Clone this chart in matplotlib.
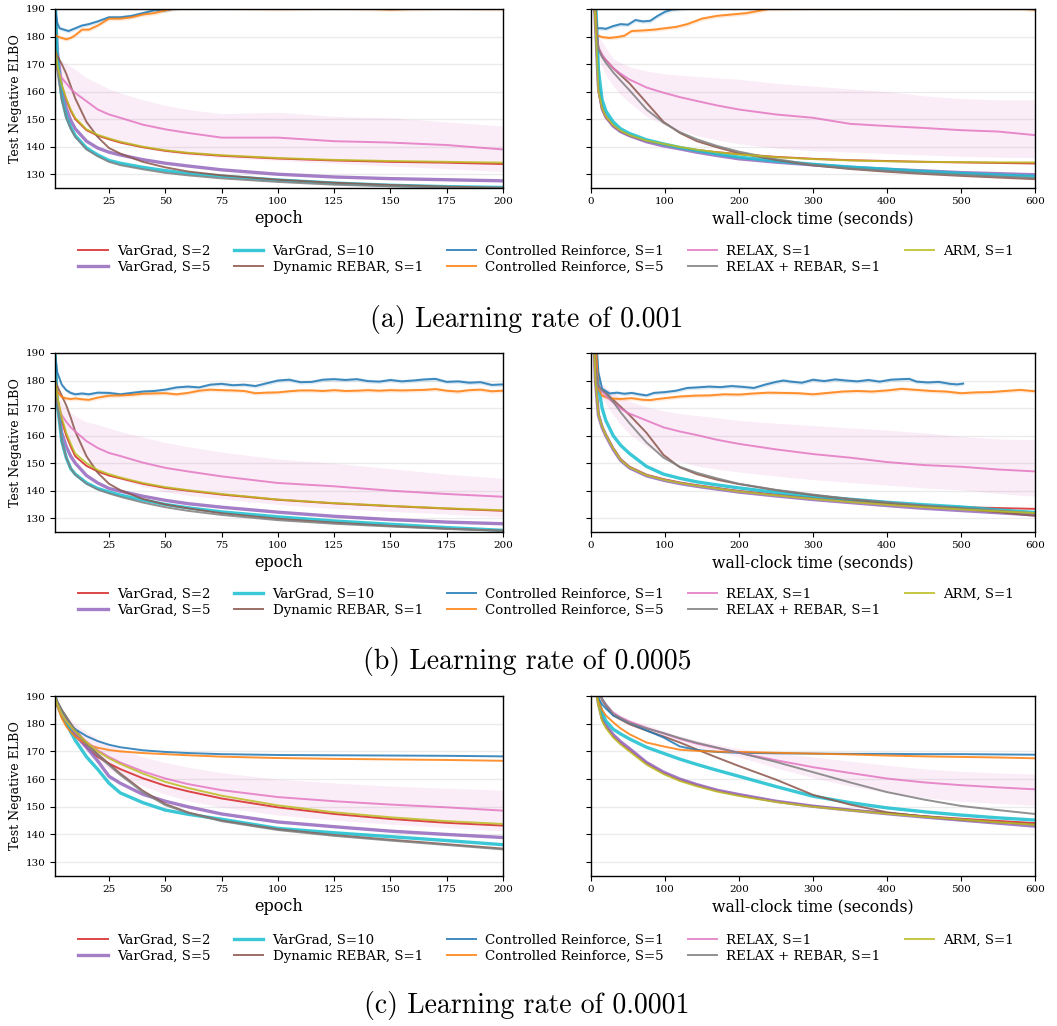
import matplotlib
matplotlib.use("Agg")
import matplotlib.pyplot as plt

# ---- x grids -------------------------------------------------------------
EPOCH = [1, 2, 4, 6, 8, 10, 15, 20, 25, 30, 40, 50, 60, 75, 100, 125, 150, 175, 200]
WALL = [3, 6, 10, 15, 20, 30, 40, 52, 75, 98, 120, 143, 170, 200, 250, 300, 350, 400, 450, 500, 550, 600]

# ---- (a) learning rate 0.001, per epoch --------------------------------------
a_ep_vg2 = [176, 170, 162, 157, 153, 150, 146, 144, 142.7, 141.5, 139.8, 138.5, 137.6, 136.7, 135.7, 135.0, 134.5, 134.2, 133.7]
a_ep_vg5 = [192, 175, 161, 154, 149.5, 146.5, 142, 139.5, 138, 137, 135.3, 134, 133, 131.6, 130, 129, 128.4, 128, 127.6]
a_ep_vg10 = [195, 172, 158, 151, 147, 144, 139.5, 137, 135, 134, 132.5, 131.3, 130.3, 129.3, 127.9, 126.8, 126, 125.5, 125.2]
a_ep_dyn = [175, 173, 170, 166.5, 162, 157.5, 149, 143.5, 139.5, 137.5, 134.5, 132.5, 131, 129.6, 128, 126.9, 126.1, 125.5, 125.1]
a_ep_relax = [172, 168, 165, 163, 161, 159.5, 156.5, 153.5, 151.7, 150.5, 148, 146.3, 145, 143.3, 143.3, 142, 141.5, 140.6, 139]
a_ep_relax_hi = [175, 173, 171, 170, 169, 168, 165, 163, 161, 159.5, 157, 155, 153.5, 152, 152.5, 151, 150.5, 149, 147.5]
a_ep_relax_lo = [169, 163, 159, 156, 153.5, 151.5, 147.5, 145, 143, 141.5, 139.5, 138, 137, 136, 135, 134, 133, 132, 131]
a_ep_rr = [175, 168, 157, 150.5, 146.5, 143.5, 139, 136.5, 134.5, 133.3, 131.8, 130.5, 129.6, 128.5, 127.2, 126.2, 125.6, 125.2, 124.9]
a_ep_arm = [176, 170, 162.5, 157.5, 153.5, 150.5, 146.3, 144.3, 143, 141.8, 140, 138.7, 137.8, 136.9, 135.9, 135.2, 134.8, 134.5, 134.2]
a_ep_cr1_x = [1, 2, 3, 5, 7, 10, 13, 16, 20, 25, 30, 35, 40, 45, 50, 55, 60, 100, 150, 200]
a_ep_cr1 = [190, 185, 183, 182.5, 182, 183, 184, 184.5, 185.5, 187, 187, 187.5, 188.5, 189.5, 189.5, 190.3, 191, 193, 194, 195]
a_ep_cr5_x = [1, 2, 4, 6, 8, 10, 13, 16, 20, 25, 30, 35, 40, 45, 50, 55, 75, 100, 125, 150, 175, 200]
a_ep_cr5 = [181, 180, 179.5, 179, 179.5, 180.5, 182.5, 182.5, 184, 186.5, 186.5, 187, 188, 188.5, 189.5, 190.3, 190.5, 190, 190.4, 189.8, 190.3, 190.0]

# ---- (a) learning rate 0.001, wall-clock -------------------------------------
a_wc_vg2 = [200, 185, 160, 153.5, 150.5, 147.5, 145.5, 144, 142, 140.8, 139.7, 138.8, 138, 137.3, 136.3, 135.6, 135.1, 134.8, 134.5, 134.3, 134.1, 133.9]
a_wc_vg5 = [200, 185, 162, 154, 151, 147.5, 145.5, 144, 141.8, 140.3, 139.2, 138, 136.8, 135.6, 134.4, 133.4, 132.5, 131.8, 131.2, 130.6, 130.2, 129.8]
a_wc_vg10 = [200, 195, 168, 157, 153, 149, 146.5, 144.8, 142.5, 141, 139.7, 138.6, 137.4, 136.2, 134.8, 133.6, 132.6, 131.8, 131, 130.3, 129.7, 129.2]
a_wc_dyn = [200, 185, 176, 173, 171.5, 168.5, 166, 163, 156, 149, 145, 142, 139.8, 137.6, 135.2, 133.2, 131.9, 130.9, 130.1, 129.4, 128.8, 128.2]
a_wc_relax = [200, 185, 176, 173.5, 171.5, 168.6, 166.5, 164.4, 161.5, 159.6, 158, 156.6, 155, 153.5, 151.7, 150.5, 148.3, 147.5, 146.8, 146, 145.5, 144.2]
a_wc_relax_hi = [200, 190, 180, 178, 176, 172, 170.5, 169, 167.5, 166.5, 166, 165.5, 165, 164.5, 163, 162, 161, 160, 158.5, 157.5, 157, 157]
a_wc_relax_lo = [200, 180, 172, 169, 166, 162, 159, 156, 151, 148, 146, 144, 142.5, 141, 139.5, 138.5, 138, 137.5, 137, 136.5, 136.2, 136]
a_wc_rr = [200, 185, 175.5, 172.5, 170.5, 167, 164, 160.5, 153.5, 148.7, 145.3, 142.7, 140.3, 138.2, 135.5, 133.4, 132.1, 131.2, 130.4, 129.8, 129.2, 128.6]
a_wc_arm = [200, 185, 160.5, 154, 151, 147.8, 145.8, 144.2, 142.2, 141, 139.9, 138.9, 138, 137.2, 136.2, 135.5, 135.0, 134.7, 134.5, 134.4, 134.3, 134.3]
a_wc_cr1_x = [5, 8, 15, 20, 30, 40, 50, 60, 70, 80, 90, 100, 110, 120, 130, 140, 200, 300, 400, 500]
a_wc_cr1 = [195, 183, 183, 182.8, 183.8, 184.5, 184.3, 186, 185.5, 185.7, 187.5, 189, 189.8, 190, 190.5, 191, 193, 194, 195, 195]
a_wc_cr5_x = [5, 8, 15, 25, 35, 45, 55, 70, 85, 100, 115, 130, 150, 170, 190, 210, 240, 300, 400, 500, 580, 600]
a_wc_cr5 = [195, 180.5, 179.8, 179.5, 179.8, 180.3, 182, 182.2, 182.5, 183, 183.5, 184.5, 186.5, 187.5, 188, 188.5, 190, 190.3, 190.4, 190.3, 190.2, 189.7]

# ---- (b) learning rate 0.0005, per epoch -------------------------------------
b_ep_vg2 = [180, 174, 165.5, 160, 156, 152.5, 149, 147, 145.5, 144.5, 142.5, 141, 140, 138.6, 136.7, 135.4, 134.4, 133.5, 132.7]
b_ep_vg5 = [185, 172, 161, 156, 152.5, 150, 145.5, 142.8, 140.8, 139.8, 138, 136.5, 135.3, 134, 132.2, 130.7, 129.5, 128.6, 128]
b_ep_vg10 = [190, 172, 158, 152, 148, 146, 142.8, 140.8, 139.5, 138.4, 136.6, 135, 133.8, 132.3, 130.5, 129, 127.8, 126.6, 125.6]
b_ep_dyn = [180, 178, 174.5, 171, 166.5, 161.5, 152.5, 146.5, 142.5, 140.2, 137, 135, 133.6, 131.8, 129.8, 128.4, 127.2, 126.2, 125.5]
b_ep_relax = [178, 172, 167.5, 165, 163, 161.5, 158, 155.5, 153.7, 152.6, 150.2, 148.3, 147, 145.2, 142.8, 141.6, 140, 138.8, 137.8]
b_ep_relax_hi = [180, 176, 172, 170, 168.5, 167, 165, 164, 162.7, 161.5, 159.5, 157.5, 156, 154, 151.5, 150, 148, 146, 144.5]
b_ep_relax_lo = [176, 168, 163, 160, 157.5, 155.5, 151.5, 148, 145.5, 144, 141.5, 139.5, 138.3, 137, 135, 133.5, 132.5, 131.5, 130.5]
b_ep_rr = [183, 172, 158, 152, 148, 145.8, 142.5, 140.4, 139, 137.8, 135.7, 134, 132.7, 131.2, 129.3, 128, 127, 126.1, 125.4]
b_ep_arm = [180, 174.5, 166.5, 161, 157, 153.5, 150, 147.5, 146, 144.8, 142.8, 141.3, 140.2, 138.8, 136.8, 135.5, 134.5, 133.6, 132.9]
b_ep_cr_x = [1, 2, 4, 6, 8, 10, 13, 16, 20, 25, 30, 35, 40, 45, 50, 55, 60, 65, 70, 75, 80, 85, 90, 95, 100,
             105, 110, 115, 120, 125, 130, 135, 140, 145, 150, 155, 160, 165, 170, 175, 180, 185, 190, 195, 200]
b_ep_cr1 = [190, 183, 178.5, 176.5, 175.5, 175, 175.3, 175, 175.6, 175.5, 175, 175.5, 176, 176.2, 176.7, 177.5, 177.8, 177.5, 178.5, 178.8,
            178.3, 178.5, 178, 179, 180, 180.3, 179.4, 179.5, 180.3, 180.5, 180.2, 180.5, 179.8, 179.6, 180.2, 179.7, 180, 180.4, 180.6,
            179.5, 179.7, 179.2, 179.4, 178.4, 178.6]
b_ep_cr5 = [180, 176, 174, 173.5, 173.3, 173.5, 173.2, 173, 173.8, 174.5, 174.6, 174.8, 175.2, 175.3, 175.4, 175, 175.5, 176.3, 176.7,
            176.5, 176.4, 176.2, 175.4, 175.6, 175.7, 176.1, 176.4, 176.4, 176.2, 176.5, 176.2, 176.3, 176.5, 176.3, 176.5, 176.4,
            176.5, 176.6, 176.9, 176.3, 176, 176.5, 176.7, 176.1, 176.3]

# ---- (b) learning rate 0.0005, wall-clock ------------------------------------
b_wc_vg2 = [200, 180, 168, 163.5, 160.5, 155.5, 151.5, 148.7, 145.8, 144.2, 143, 142, 141, 139.9, 138.6, 137.4, 136.3, 135.3, 134.6, 134, 133.7, 133.4]
b_wc_vg5 = [200, 180, 167.5, 163, 160, 155, 151, 148.3, 145.4, 143.8, 142.6, 141.6, 140.6, 139.5, 138.1, 136.8, 135.7, 134.6, 133.6, 132.8, 132, 131.2]
b_wc_vg10 = [200, 190, 178, 170, 165.5, 160, 156.5, 153.5, 148.8, 146, 144.5, 143.2, 142.1, 141, 139.4, 138, 136.9, 135.8, 134.9, 134.1, 133, 132.1]
b_wc_dyn = [200, 185, 178, 176.5, 175.5, 173, 170.5, 167.5, 161, 153, 148.5, 146, 144, 142.4, 140.2, 138.4, 136.9, 135.5, 134.4, 133.5, 132.2, 130.9]
b_wc_relax = [200, 185, 178, 176, 174.5, 172, 169.8, 168, 165.5, 163, 161.5, 160.2, 158.5, 157, 155, 153.3, 152, 150.4, 149.3, 148.7, 147.7, 147]
b_wc_relax_hi = [200, 190, 180, 178.5, 177.5, 175.5, 174, 172.5, 170.5, 169, 168, 167.3, 166.5, 165.5, 164.5, 163.7, 162.8, 162, 161, 159.7, 158.8, 158.5]
b_wc_relax_lo = [200, 180, 176, 173.5, 171.5, 167.5, 164, 160.5, 156, 152.5, 150.5, 149, 147.8, 146.8, 145.3, 144, 143, 142, 141, 140.3, 139, 138]
b_wc_rr = [200, 185, 178, 176.5, 175.5, 172.3, 168.5, 164.5, 157.5, 152, 148.7, 146.5, 144.5, 142.5, 140.3, 138.6, 137, 135.8, 134.6, 133.7, 132.8, 131.8]
b_wc_arm = [200, 180, 167.8, 163.3, 160.3, 155.3, 151.2, 148.5, 145.6, 144, 142.8, 141.8, 140.8, 139.7, 138.3, 137, 135.9, 134.9, 134, 133.2, 132.5, 131.9]
b_wc_cr1_x = [6, 10, 15, 25, 35, 45, 55, 65, 75, 85, 100, 115, 130, 143, 160, 175, 190, 205, 220, 235, 250, 260, 270, 285, 300,
              315, 330, 345, 360, 375, 390, 405, 420, 430, 440, 455, 470, 485, 495, 503]
b_wc_cr1 = [200, 183, 177, 175.3, 175.6, 175.2, 175.5, 175, 174.6, 175.5, 175.8, 176.3, 177.3, 177.5, 177.8, 177.6, 178, 177.7, 177.3,
            178.5, 179.5, 180, 179.6, 179.2, 180.3, 179.8, 180.4, 180, 179.7, 180.2, 179.6, 180.3, 180.5, 180.6, 179.6, 179.3,
            179.5, 178.8, 178.6, 178.9]
b_wc_cr5_x = [6, 10, 15, 25, 40, 55, 70, 80, 90, 100, 120, 140, 160, 180, 200, 220, 240, 260, 280, 300, 320, 340, 360, 380, 400,
              420, 440, 460, 480, 500, 520, 540, 560, 580, 600]
b_wc_cr5 = [195, 177, 174.5, 173.5, 173.3, 173.6, 173, 172.9, 173.3, 173.6, 174.2, 174.5, 174.6, 175, 174.9, 175.3, 175.6, 175.5,
            175.4, 175, 175.5, 176, 176.2, 176, 176.4, 177, 176.6, 176.2, 176, 175.4, 175.7, 175.8, 176.2, 176.6, 176.1]

# ---- (c) learning rate 0.0001, per epoch -------------------------------------
c_ep_vg2 = [190, 186.5, 182.5, 180, 177.8, 175.8, 171.5, 168, 165.6, 163.6, 160.3, 157.6, 155.6, 153, 149.8, 147.4, 145.6, 144.2, 143.2]
c_ep_vg5 = [190, 187.5, 184, 181.5, 178.5, 176, 171.5, 166.5, 161, 158.5, 154.5, 152, 150, 147.4, 144.5, 142.8, 141.2, 140, 138.9]
c_ep_vg10 = [190, 187, 183, 180.3, 177, 174, 168, 163.5, 158.5, 155, 151.5, 148.8, 147.3, 145.5, 142.2, 140.6, 139.2, 137.8, 136.3]
c_ep_dyn = [190, 188, 185, 182.5, 180, 177.8, 173, 169, 165.5, 162, 155.8, 151, 148, 145, 141.9, 139.8, 138.1, 136.5, 134.9]
c_ep_cr1 = [190, 187.5, 184, 181.5, 179.5, 178, 175.5, 173.7, 172.4, 171.5, 170.4, 169.8, 169.4, 169, 168.7, 168.6, 168.5, 168.4, 168.2]
c_ep_cr5 = [190, 186.5, 182, 179, 177, 175.3, 172.6, 171.3, 170.5, 170, 169.4, 169, 168.6, 168.1, 167.6, 167.3, 167.1, 166.9, 166.6]
c_ep_relax = [190, 187, 183.5, 181, 179, 177.2, 173.5, 170.4, 168, 166, 162.8, 160.2, 158.2, 156, 153.5, 152, 150.8, 149.8, 148.6]
c_ep_relax_hi = [190, 188, 185, 183, 181.5, 180, 177, 174.5, 172.5, 171, 168, 166, 164.3, 162.3, 160, 158.6, 157.5, 156.7, 156]
c_ep_relax_lo = [190, 186, 182, 179, 176.5, 174.5, 170, 166.5, 163.5, 161, 157.5, 154.5, 152.2, 149.8, 147, 145.2, 143.7, 142.5, 141.3]
c_ep_rr = [190, 188, 185, 182.5, 180, 177.5, 172.5, 168.5, 165, 161.5, 155.3, 150.6, 147.8, 144.8, 141.6, 139.5, 137.8, 136.2, 134.6]
c_ep_arm = [190, 187, 183.5, 181, 179, 177.2, 173.3, 170, 167.5, 165.5, 162, 159, 156.8, 154, 150.5, 148, 146.2, 144.8, 143.8]

# ---- (c) learning rate 0.0001, wall-clock ------------------------------------
c_wc_vg2 = [200, 194, 187, 181.5, 179, 175.5, 173, 170.5, 165.7, 162.2, 159.7, 157.8, 155.8, 154.2, 151.9, 150.2, 148.9, 147.7, 146.6, 145.7, 144.9, 144.1]
c_wc_vg5 = [200, 194, 187.5, 182, 179.5, 176, 173.5, 171, 166, 162.5, 160, 158, 156, 154.4, 152, 150.2, 148.8, 147.5, 146.3, 145.2, 144.1, 143]
c_wc_vg10 = [200, 195, 189, 184, 181, 178, 176.3, 174.5, 171.5, 169.3, 167.2, 165.3, 163.2, 161, 157.3, 153.8, 151.5, 149.6, 148.2, 147, 146, 145.2]
c_wc_dyn = [200, 196, 192, 188.5, 186.5, 183, 181.5, 179.8, 177.5, 175.4, 173.2, 170.7, 167.8, 164.7, 159.8, 154.3, 150.8, 148, 146.5, 145.3, 144.4, 143.6]
c_wc_cr1 = [196, 192, 189, 187, 185.5, 183, 181.8, 180.3, 177.6, 175, 171.8, 170.5, 169.8, 169.5, 169.3, 169.2, 169.1, 169.1, 169, 169, 168.9, 168.8]
c_wc_cr5 = [196, 192, 188, 185, 183, 180.5, 178.3, 176.2, 173.2, 171.8, 170.6, 170.2, 169.9, 169.8, 169.5, 169.2, 168.9, 168.5, 168.2, 168, 167.8, 167.5]
c_wc_relax = [200, 196, 192, 189, 187, 184, 182.3, 180.8, 178.5, 176.5, 174.5, 172.8, 171.2, 169.5, 166.8, 164.3, 162.2, 160.2, 158.8, 157.8, 157, 156.3]
c_wc_relax_hi = [200, 196, 192, 189.5, 187.5, 184.5, 183, 181.5, 179.5, 177.5, 175.5, 174, 172.5, 171, 169.5, 168, 166.5, 165, 163.7, 162.8, 162.2, 161.8]
c_wc_relax_lo = [200, 196, 192, 188.5, 186.5, 183.5, 181.5, 180, 177.5, 175.5, 173.5, 171.5, 170, 168, 164, 160.5, 157.5, 155, 153.2, 152, 151.2, 150.5]
c_wc_rr = [200, 196, 192, 189, 187, 183.5, 182, 180.3, 178.3, 176.6, 174.8, 173.1, 171.4, 169.5, 166.2, 162.5, 158.8, 155.3, 152.6, 150.3, 148.8, 147.4]
c_wc_arm = [200, 193.5, 186.5, 181, 178.5, 175, 172.5, 170, 165.2, 161.8, 159.3, 157.4, 155.5, 153.9, 151.7, 150, 148.7, 147.5, 146.4, 145.4, 144.4, 143.5]

LABELS = ["VarGrad, S=2", "VarGrad, S=5", "VarGrad, S=10", "Dynamic REBAR, S=1",
          "Controlled Reinforce, S=1", "Controlled Reinforce, S=5", "RELAX, S=1",
          "RELAX + REBAR, S=1", "ARM, S=1"]
COLORS = ["#d62728", "#9467bd", "#17becf", "#8c564b", "#1f77b4", "#ff7f0e", "#e377c2", "#7f7f7f", "#bcbd22"]
WIDTHS = [1.4, 2.4, 2.4, 1.4, 1.4, 1.4, 1.4, 1.4, 1.4]
CAPTIONS = ["(a) Learning rate of 0.001", "(b) Learning rate of 0.0005", "(c) Learning rate of 0.0001"]

plt.rcParams["font.family"] = "DejaVu Serif"

W, H = 1057, 1026
fig = plt.figure(figsize=(W / 100, H / 100), dpi=100)

# pixel boxes (left, top, right, bottom)
rows_px = [(9, 188), (353, 532), (696, 876)]
cols_px = [(55, 503), (591, 1035)]
legend_y = [259, 602, 948]
caption_y = [320, 662, 1005]


def series_for(p):
    g = globals()
    out = []
    for key in ["vg2", "vg5", "vg10", "dyn", "cr1", "cr5", "relax", "rr", "arm"]:
        y = g[f"{p}_{key}"]
        if f"{p}_{key}_x" in g:
            x = g[f"{p}_{key}_x"]
        elif key in ("cr1", "cr5") and f"{p}_cr_x" in g:
            x = g[f"{p}_cr_x"]
        else:
            x = EPOCH if "_ep" in p else WALL
        out.append((x, y))
    return out


def draw_panel(ax, p, wall):
    grid = WALL if wall else EPOCH
    ax.fill_between(grid, globals()[f"{p}_relax_lo"], globals()[f"{p}_relax_hi"],
                    color=COLORS[6], alpha=0.13, lw=0)
    lines = []
    for i, (x, y) in enumerate(series_for(p)):
        if i in (4, 5) and not p.startswith("c"):
            ax.fill_between(x, [v - 0.7 for v in y], [v + 0.7 for v in y],
                            color=COLORS[i], alpha=0.15, lw=0)
        ln, = ax.plot(x, y, color=COLORS[i], lw=WIDTHS[i], alpha=0.85, label=LABELS[i])
        lines.append(ln)
    ax.set_ylim(125, 190)
    ax.set_yticks([130, 140, 150, 160, 170, 180, 190])
    if wall:
        ax.set_xlim(0, 600)
        ax.set_xticks(range(0, 601, 100))
        ax.set_xlabel("wall-clock time (seconds)", fontsize=11.3, labelpad=3)
        ax.tick_params(axis="y", labelleft=False)
    else:
        ax.set_xlim(1, 200)
        ax.set_xticks(range(25, 201, 25))
        ax.set_xlabel("epoch", fontsize=11.5, labelpad=3)
        ax.set_ylabel("Test Negative ELBO", fontsize=9, labelpad=3)
    ax.yaxis.grid(True, color="#ebebeb", lw=1.0)
    ax.set_axisbelow(True)
    ax.tick_params(direction="out", length=3.5, width=0.8, labelsize=7.5, pad=3)
    for s in ax.spines.values():
        s.set_linewidth(1.0)
        s.set_color("black")
    return lines


for r, row in enumerate(["a", "b", "c"]):
    top, bot = rows_px[r]
    for c, (l, rr) in enumerate(cols_px):
        ax = fig.add_axes([l / W, 1 - bot / H, (rr - l) / W, (bot - top) / H])
        lines = draw_panel(ax, f"{row}_{'wc' if c else 'ep'}", wall=bool(c))
    fig.legend(lines, LABELS, ncol=5, loc="center", bbox_to_anchor=(546 / W, 1 - legend_y[r] / H),
               frameon=False, fontsize=9.6, handlelength=2.2, handletextpad=0.68,
               columnspacing=1.8, labelspacing=0.25)
    fig.text(527 / W, 1 - caption_y[r] / H, CAPTIONS[r], ha="center", va="center",
             fontsize=20, family="cmr10")

fig.savefig("out.png", dpi=100)
